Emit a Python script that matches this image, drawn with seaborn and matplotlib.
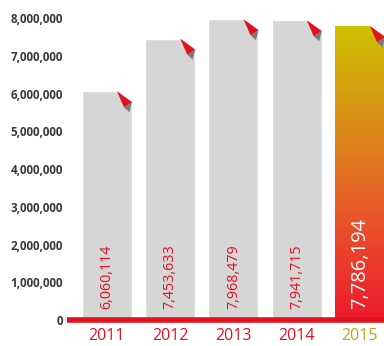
import numpy as np
import pandas as pd
import matplotlib
matplotlib.use("Agg")
import matplotlib.pyplot as plt
import matplotlib.colors as mcolors
from matplotlib.patches import Polygon
import seaborn as sns

years = ["2011", "2012", "2013", "2014", "2015"]
values = [6060114, 7453633, 7968479, 7941715, 7786194]
value_labels = ["6,060,114", "7,453,633", "7,968,479", "7,941,715", "7,786,194"]
y_ticks = [0, 1000000, 2000000, 3000000, 4000000, 5000000, 6000000, 7000000, 8000000]

sns.set_theme(style="white")
plt.rcParams["font.family"] = ["Open Sans", "DejaVu Sans"]

RED = "#e3101f"
GRAY = "#d6d6d6"

df = pd.DataFrame({"year": years, "value": values})

fig = plt.figure(figsize=(3.84, 3.46), dpi=100)
ax = fig.add_axes([67 / 384, 26 / 346, 317 / 384, 320 / 346])

sns.barplot(data=df, x="year", y="value", color=GRAY, saturation=1,
            width=0.79, ax=ax, zorder=2)

ax.set_xlim(-0.632, 4.38)
ax.set_ylim(0, 8.477e6)
for s in ax.spines.values():
    s.set_visible(False)
ax.set_xlabel("")
ax.set_ylabel("")
ax.set_yticks(y_ticks)
ax.set_yticklabels([f"{v:,}" for v in y_ticks], fontsize=8.4,
                   color="#3a3a3a", fontweight="bold")
ax.tick_params(axis="y", length=0, pad=3)
ax.tick_params(axis="x", length=0, pad=6)
ax.set_xticks(range(len(years)))
ax.set_xticklabels(years, fontsize=11.5)
for i, t in enumerate(ax.get_xticklabels()):
    t.set_color("#c4a21a" if i == len(years) - 1 else RED)

patches = ax.patches
# gradient last bar
last = patches[-1]
x0, w, h = last.get_x(), last.get_width(), last.get_height()
cmap = mcolors.LinearSegmentedColormap.from_list(
    "g", [(0, "#ee1a2e"), (0.35, "#e8562a"), (0.65, "#dc8a1a"), (1.0, "#cdc000")])
grad = np.linspace(0, 1, 256).reshape(-1, 1)
last.set_facecolor("none")
im = ax.imshow(grad, cmap=cmap, origin="lower", aspect="auto",
               extent=[x0, x0 + w, 0, h], zorder=2)
im.set_clip_path(last)
ax.set_xlim(-0.632, 4.38)
ax.set_ylim(0, 8.477e6)

# folded corners
fw = 15 / 63.25
fh = 11 * 8.477e6 / 320
for p in patches:
    bx0, bw, bh = p.get_x(), p.get_width(), p.get_height()
    x1 = bx0 + bw
    tipx = x1 - 8 / 63.25
    tipy = bh - 16 * 8.477e6 / 320
    ax.add_patch(Polygon([(x1 - fw, bh + 1e4), (x1 + 0.02, bh + 1e4), (x1 + 0.02, bh - fh)],
                         closed=True, facecolor="white", edgecolor="none", zorder=3))
    ax.add_patch(Polygon([(x1, bh - fh), (x1 - 0.04, bh - 21 * 8.477e6 / 320), (tipx, tipy)],
                         closed=True, facecolor="#7a7a7a", edgecolor="none", zorder=4))
    ax.add_patch(Polygon([(x1 - fw, bh), (x1, bh - fh), (tipx, tipy)],
                         closed=True, facecolor=RED, edgecolor="none", zorder=5))

# value labels
for i, lab in enumerate(value_labels):
    last_bar = i == len(value_labels) - 1
    ax.annotate(lab, xy=(i, 0), xytext=(0, 8), textcoords="offset points",
                rotation=90, ha="center", va="bottom",
                fontsize=14.5 if last_bar else 10.3,
                color="white" if last_bar else RED, zorder=6)

ax.axhline(0, color=RED, lw=4, clip_on=False, zorder=7, solid_capstyle="butt")

fig.savefig("out.png", dpi=100)
